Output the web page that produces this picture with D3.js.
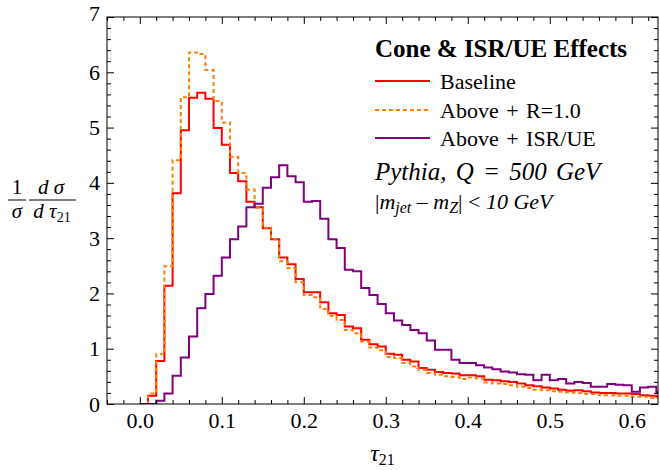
<!DOCTYPE html>
<html>
<head>
<meta charset="utf-8">
<script src="https://cdn.jsdelivr.net/npm/d3@7"></script>
<style>
  body { margin: 0; background: #fff; }
  svg { display: block; }
  svg text { font-family: "Liberation Serif", serif; fill: #000; }
  .axis path { display: none; }
  .axis line { stroke: #000; stroke-width: 1; }
  .axis text { font-size: 22px; font-family: "Liberation Serif", serif; }
</style>
</head>
<body>
<div id="chart"></div>
<script>
var svgWidth = 660;
var svgHeight = 470;

// bins of tau21, width 0.01, first bin starts at 0.00
var binStart = 0.0;
var binWidth = 0.01;

var baseline = [0, 0.15, 0.78, 2.14, 3.81, 4.95, 5.54, 5.63, 5.52, 4.99,
  4.69, 4.18, 4.03, 3.66, 3.56, 3.18, 2.98, 2.65, 2.53, 2.26,
  2.02, 2.02, 1.84, 1.64, 1.61, 1.40, 1.37, 1.16, 1.08, 1.04,
  0.91, 0.89, 0.80, 0.77, 0.65, 0.62, 0.58, 0.56, 0.55, 0.52,
  0.52, 0.50, 0.44, 0.43, 0.41, 0.40, 0.37, 0.34, 0.32, 0.30,
  0.28, 0.26, 0.24, 0.25, 0.23, 0.21, 0.20, 0.20, 0.19, 0.19,
  0.18, 0.16, 0.15, 0.13];

var coneR10 = [0, 0.19, 0.90, 2.49, 4.41, 5.55, 6.36, 6.33, 6.04, 5.48,
  5.09, 4.47, 4.18, 3.88, 3.55, 3.19, 2.98, 2.58, 2.46, 2.20,
  1.97, 1.93, 1.72, 1.59, 1.52, 1.34, 1.28, 1.13, 1.02, 0.97,
  0.85, 0.83, 0.74, 0.68, 0.62, 0.56, 0.53, 0.50, 0.49, 0.45,
  0.48, 0.46, 0.39, 0.37, 0.36, 0.34, 0.31, 0.29, 0.26, 0.25,
  0.23, 0.22, 0.21, 0.20, 0.18, 0.18, 0.16, 0.16, 0.15, 0.15,
  0.13, 0.13, 0.11, 0.10];

var isrUE = [0, 0, 0.06, 0.19, 0.51, 0.84, 1.22, 1.73, 1.99, 2.32,
  2.65, 2.98, 3.21, 3.56, 3.62, 3.91, 4.10, 4.32, 4.12, 4.01,
  3.66, 3.67, 3.35, 2.98, 2.82, 2.43, 2.40, 2.10, 1.97, 1.81,
  1.64, 1.51, 1.43, 1.34, 1.28, 1.15, 0.98, 0.98, 0.80, 0.74,
  0.74, 0.70, 0.66, 0.63, 0.59, 0.57, 0.54, 0.53, 0.43, 0.53,
  0.43, 0.45, 0.37, 0.40, 0.38, 0.31, 0.31, 0.36, 0.35, 0.34,
  0.22, 0.30, 0.31, 0.21];

var seriesNames = ["Baseline", "Above + R=1.0", "Above + ISR/UE"];
var seriesColors = ["#ff0000", "#ff8000", "#800080"];
var seriesDash = [null, "4,3", null];

var xTicks = [0.0, 0.1, 0.2, 0.3, 0.4, 0.5, 0.6];
var yTicks = [0, 1, 2, 3, 4, 5, 6, 7];

var margin = { top: 17, right: 2, bottom: 66, left: 107 };
var width = svgWidth - margin.left - margin.right;
var height = svgHeight - margin.top - margin.bottom;

var svg = d3.select("#chart")
  .append("svg")
  .attr("width", svgWidth)
  .attr("height", svgHeight);

var chartGroup = svg.append("g")
  .attr("transform", `translate(${margin.left}, ${margin.top})`);

var xScale = d3.scaleLinear().domain([-0.04, 0.632]).range([0, width]);
var yScale = d3.scaleLinear().domain([0, 7]).range([height, 0]);

// minor ticks
var xMinor = d3.range(-0.04, 0.632, 0.02).filter(v => Math.abs(v * 10 - Math.round(v * 10)) > 1e-6);
var yMinor = d3.range(0, 7.001, 0.2).filter(v => Math.abs(v - Math.round(v)) > 1e-6);

// clip for curves
svg.append("defs").append("clipPath").attr("id", "clip")
  .append("rect").attr("width", width).attr("height", height);

// histogram step lines
var allSeries = [baseline, coneR10, isrUE];
var line = d3.line()
  .x(d => xScale(d[0]))
  .y(d => yScale(d[1]))
  .curve(d3.curveStepAfter);

allSeries.forEach(function(vals, i) {
  var pts = vals.map((v, j) => [binStart + j * binWidth, v]);
  pts.push([binStart + vals.length * binWidth, vals[vals.length - 1]]);
  chartGroup.append("path")
    .attr("clip-path", "url(#clip)")
    .attr("d", line(pts))
    .attr("fill", "none")
    .attr("stroke", seriesColors[i])
    .attr("stroke-width", 2)
    .attr("stroke-dasharray", seriesDash[i]);
});

// frame
chartGroup.append("rect")
  .attr("width", width).attr("height", height)
  .attr("fill", "none").attr("stroke", "#000").attr("stroke-width", 1);

// axes: ticks point inward on all four sides
function styleAxis(g) {
  g.attr("font-family", "Liberation Serif").attr("font-size", 22);
}
chartGroup.append("g").attr("class", "axis")
  .attr("transform", `translate(0, ${height})`)
  .call(d3.axisBottom(xScale).tickValues(xTicks).tickSize(-7).tickPadding(8).tickFormat(d3.format(".1f")))
  .call(styleAxis);
chartGroup.append("g").attr("class", "axis")
  .attr("transform", `translate(0, ${height})`)
  .call(d3.axisBottom(xScale).tickValues(xMinor).tickSize(-4).tickFormat(""));
chartGroup.append("g").attr("class", "axis")
  .call(d3.axisTop(xScale).tickValues(xTicks).tickSize(-7).tickFormat(""));
chartGroup.append("g").attr("class", "axis")
  .call(d3.axisTop(xScale).tickValues(xMinor).tickSize(-4).tickFormat(""));

var yAxisG = chartGroup.append("g").attr("class", "axis")
  .call(d3.axisLeft(yScale).tickValues(yTicks).tickSize(-7).tickPadding(7).tickFormat(d3.format("d")))
  .call(styleAxis);
// top label sits a little above the frame corner, as in the original
yAxisG.selectAll(".tick text").filter(d => d === 7).attr("dy", "0.15em");
chartGroup.append("g").attr("class", "axis")
  .call(d3.axisLeft(yScale).tickValues(yMinor).tickSize(-4).tickFormat(""));
chartGroup.append("g").attr("class", "axis")
  .attr("transform", `translate(${width}, 0)`)
  .call(d3.axisRight(yScale).tickValues(yTicks).tickSize(-7).tickFormat(""));
chartGroup.append("g").attr("class", "axis")
  .attr("transform", `translate(${width}, 0)`)
  .call(d3.axisRight(yScale).tickValues(yMinor).tickSize(-4).tickFormat(""));

// x axis label
var xLab = svg.append("text")
  .attr("x", margin.left + width / 2)
  .attr("y", 461)
  .attr("text-anchor", "middle")
  .style("font-size", "24px");
xLab.append("tspan").style("font-style", "italic").text("τ");
xLab.append("tspan").attr("dy", 4).style("font-size", "16px").text("21");

// y axis label: 1/σ dσ/dτ21
var yLab = svg.append("g");
yLab.append("text").attr("x", 17).attr("y", 194).attr("text-anchor", "middle")
  .style("font-size", "21px").text("1");
yLab.append("line").attr("x1", 8).attr("x2", 26).attr("y1", 200).attr("y2", 200)
  .attr("stroke", "#000").attr("stroke-width", 1);
yLab.append("text").attr("x", 17).attr("y", 218).attr("text-anchor", "middle")
  .style("font-size", "21px").style("font-style", "italic").text("σ");
yLab.append("text").attr("x", 51).attr("y", 194).attr("text-anchor", "middle")
  .style("font-size", "21px").style("font-style", "italic").text("d σ");
yLab.append("line").attr("x1", 29).attr("x2", 76).attr("y1", 200).attr("y2", 200)
  .attr("stroke", "#000").attr("stroke-width", 1);
var den = yLab.append("text").attr("x", 52).attr("y", 218).attr("text-anchor", "middle")
  .style("font-size", "21px");
den.append("tspan").style("font-style", "italic").text("d τ");
den.append("tspan").attr("dy", 4).style("font-size", "14px").text("21");

// legend
var legend = svg.append("g");
legend.append("text")
  .attr("x", 375).attr("y", 57)
  .style("font-size", "25px").style("font-weight", "bold")
  .text("Cone & ISR/UE Effects");

var legendY = [81, 110, 138];
seriesNames.forEach(function(name, i) {
  legend.append("line")
    .attr("x1", 375).attr("x2", 430)
    .attr("y1", legendY[i]).attr("y2", legendY[i])
    .attr("stroke", seriesColors[i]).attr("stroke-width", 2)
    .attr("stroke-dasharray", seriesDash[i]);
  legend.append("text")
    .attr("x", 440).attr("y", legendY[i] + 8)
    .style("font-size", "22px")
    .style("word-spacing", "2px")
    .text(name);
});

legend.append("text")
  .attr("x", 375).attr("y", 180)
  .style("font-size", "25px").style("font-style", "italic")
  .style("word-spacing", "3px")
  .text("Pythia, Q = 500 GeV");

var mText = legend.append("text")
  .attr("x", 375).attr("y", 209)
  .style("font-size", "22px");
mText.append("tspan").text("|");
mText.append("tspan").style("font-style", "italic").text("m");
mText.append("tspan").attr("dy", 4).style("font-size", "16px").style("font-style", "italic").text("jet");
mText.append("tspan").attr("dy", -4).text(" – ");
mText.append("tspan").style("font-style", "italic").text("m");
mText.append("tspan").attr("dy", 4).style("font-size", "16px").style("font-style", "italic").text("Z");
mText.append("tspan").attr("dy", -4).text("| < ");
mText.append("tspan").style("font-style", "italic").text("10 GeV");
</script>
</body>
</html>
